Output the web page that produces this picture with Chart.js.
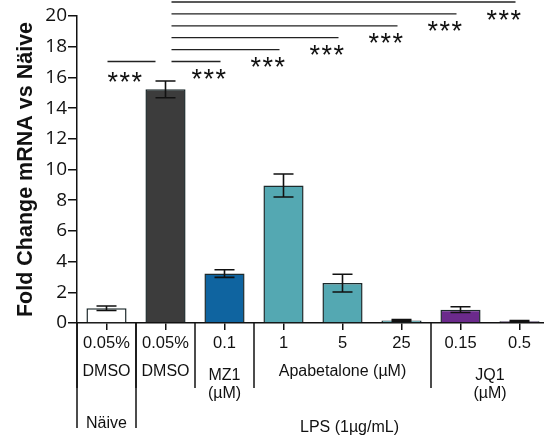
<!DOCTYPE html>
<html>
<head>
<meta charset="utf-8">
<script src="https://cdn.jsdelivr.net/npm/chart.js@4.4.0/dist/chart.umd.min.js"></script>
<style>
  html, body { margin: 0; padding: 0; background: #fff; overflow: hidden; }
  #moldura { width: 544px; height: 437px; overflow: hidden; }
  #caixa { width: 552px; height: 437px; position: relative; }
</style>
</head>
<body>
<div id="moldura"><div id="caixa"><canvas id="chart-fold-change"></canvas></div></div>
<script>
// dados
const doses = ['0.05%', '0.05%', '0.1', '1', '5', '25', '0.15', '0.5'];
const valores = [0.96, 15.22, 3.22, 8.96, 2.6, 0.17, 0.87, 0.11];
const erros = [0.15, 0.55, 0.25, 0.75, 0.58, 0.05, 0.19, 0.05];
const cores = ['#ffffff', '#3c3c3c', '#0f64a0', '#54a8b2', '#54a8b2', '#54a8b2', '#6b2a8c', '#6b2a8c'];
const compostos = [
    { texto: ['DMSO'], de: 0, ate: 0 },
    { texto: ['DMSO'], de: 1, ate: 1 },
    { texto: ['MZ1', '(\u00b5M)'], de: 2, ate: 2 },
    { texto: ['Apabetalone (\u00b5M)'], de: 3, ate: 5 },
    { texto: ['JQ1', '(\u00b5M)'], de: 6, ate: 7 }
];
const tratamentos = [
    { texto: 'N\u00e4ive', de: 0, ate: 0 },
    { texto: 'LPS (1\u00b5g/mL)', de: 1, ate: 7 }
];
const comparacoes = [
    { de: 0, ate: 1, sig: '***' },
    { de: 1, ate: 2, sig: '***' },
    { de: 1, ate: 3, sig: '***' },
    { de: 1, ate: 4, sig: '***' },
    { de: 1, ate: 5, sig: '***' },
    { de: 1, ate: 6, sig: '***' },
    { de: 1, ate: 7, sig: '***' }
];

const fonteTexto = "'Liberation Sans', Arial, sans-serif";

const pluginExtras = {
    id: 'extras',
    afterDatasetsDraw(chart) {
        const { ctx, scales: { x, y } } = chart;
        const cx = i => x.getPixelForValue(i);
        const borda = i => i <= 0 ? x.left : (cx(i - 1) + cx(i)) / 2;
        const base = x.top;
        ctx.save();

        // barras de erro
        ctx.strokeStyle = '#111';
        ctx.lineWidth = 1.6;
        valores.forEach((v, i) => {
            const yt = y.getPixelForValue(v + erros[i]);
            const yb = y.getPixelForValue(v - erros[i]);
            ctx.beginPath();
            ctx.moveTo(cx(i), yt); ctx.lineTo(cx(i), yb);
            ctx.moveTo(cx(i) - 10, yt); ctx.lineTo(cx(i) + 10, yt);
            ctx.moveTo(cx(i) - 10, yb); ctx.lineTo(cx(i) + 10, yb);
            ctx.stroke();
        });

        // linhas de significancia
        ctx.lineWidth = 1.3;
        ctx.strokeStyle = '#222';
        ctx.fillStyle = '#111';
        ctx.font = '27px ' + fonteTexto;
        ctx.letterSpacing = '1.5px';
        ctx.textAlign = 'center';
        ctx.textBaseline = 'alphabetic';
        const topo = y.getPixelForValue(20);
        comparacoes.forEach(c => {
            const nivel = c.ate - c.de - 1;
            const ly = topo + 45.5 - 11.9 * nivel;
            const x0 = cx(c.de) + (c.de === 0 ? 1 : 6);
            const x1 = cx(c.ate) - (c.de === 0 ? 10 : 4);
            ctx.beginPath();
            ctx.moveTo(x0, ly); ctx.lineTo(x1, ly);
            ctx.stroke();
            const m = ctx.measureText(c.sig);
            const sx = c.de === 0 ? x0 + 17 : x1 - 12;
            const sy = ly + (c.de === 0 ? 15 : 12.5);
            ctx.fillText(c.sig, sx + 1, sy + (m.actualBoundingBoxAscent - m.actualBoundingBoxDescent) / 2);
        });
        ctx.letterSpacing = '0px';

        // separadores do eixo x
        ctx.strokeStyle = '#111';
        ctx.lineWidth = 1.5;
        compostos.forEach(g => {
            const bx = borda(g.de);
            ctx.beginPath(); ctx.moveTo(bx, base); ctx.lineTo(bx, base + 65); ctx.stroke();
        });
        tratamentos.forEach(t => {
            const bx = borda(t.de);
            ctx.beginPath(); ctx.moveTo(bx, base); ctx.lineTo(bx, base + 105); ctx.stroke();
        });

        // rotulos dos grupos
        ctx.font = '16px ' + fonteTexto;
        ctx.textBaseline = 'middle';
        compostos.forEach(g => {
            const mx = (cx(g.de) + cx(g.ate)) / 2;
            if (g.texto.length === 1) {
                ctx.fillText(g.texto[0], mx, base + 49);
            } else {
                g.texto.forEach((t, k) => ctx.fillText(t, mx, base + 53 + 18 * k));
            }
        });
        tratamentos.forEach(t => {
            const mx = t.de === t.ate ? cx(t.de) : (cx(t.de) + cx(t.ate)) / 2 + 7;
            ctx.fillText(t.texto, mx, base + (t.de === t.ate ? 101 : 105));
        });
        ctx.restore();
    }
};

const ctx = document.getElementById('chart-fold-change').getContext('2d');
new Chart(ctx, {
    type: 'bar',
    data: {
        labels: doses,
        datasets: [{
            data: valores,
            backgroundColor: cores,
            borderColor: '#1d2a2c',
            borderWidth: 1.5,
            borderSkipped: 'bottom',
            barPercentage: 0.68,
            categoryPercentage: 1
        }]
    },
    options: {
        responsive: true,
        maintainAspectRatio: false,
        animation: false,
        layout: { padding: { top: 16, left: 0, right: 3, bottom: 0 } },
        plugins: { legend: { display: false }, tooltip: { enabled: false } },
        scales: {
            x: {
                offset: true,
                afterFit: s => { s.height = 114; },
                grid: { display: true, drawOnChartArea: false, offset: false, tickLength: 7, color: '#111', lineWidth: 1.5 },
                border: { display: true, color: '#111', width: 1.5 },
                ticks: { color: '#111', font: { family: fonteTexto, size: 16.5 }, padding: 3.2, maxRotation: 0, autoSkip: false }
            },
            y: {
                min: 0,
                max: 20,
                afterFit: s => { s.width = 77; },
                grid: { drawOnChartArea: false, tickLength: 9, color: '#111', lineWidth: 1.5 },
                border: { display: true, color: '#111', width: 1.5 },
                ticks: { stepSize: 2, color: '#111', padding: 1, font: { family: "'Open Sans', sans-serif", size: 19 } },
                title: {
                    display: true,
                    text: 'Fold Change mRNA vs N\u00e4ive',
                    color: '#111',
                    font: { family: fonteTexto, size: 21.5, weight: 'bold' },
                    padding: { top: 13, bottom: 0 }
                }
            }
        }
    },
    plugins: [pluginExtras]
});
</script>
</body>
</html>
